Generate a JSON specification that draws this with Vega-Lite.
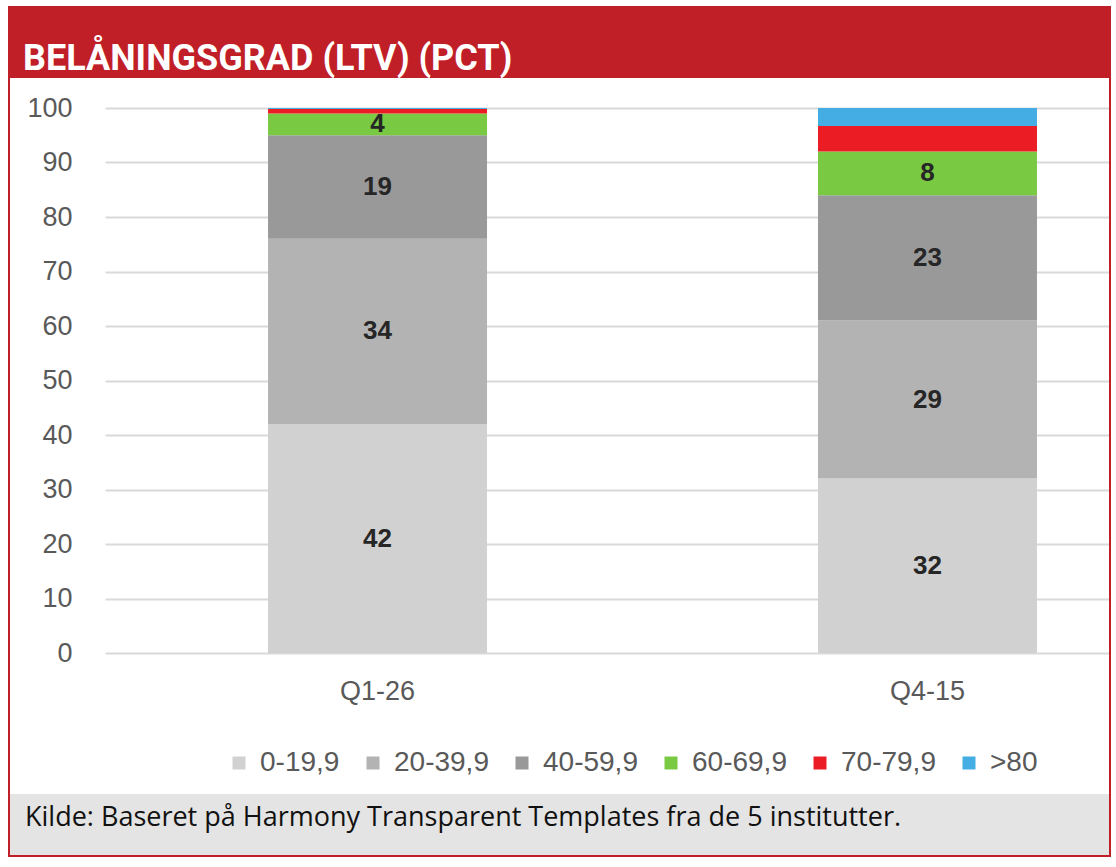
{
  "$schema": "https://vega.github.io/schema/vega-lite/v6.json",
  "background": "white",
  "padding": {"left": 8, "top": 6, "right": 5, "bottom": 10},
  "spacing": 0,
  "config": {
    "view": {"stroke": null},
    "concat": {"spacing": 0},
    "font": "Liberation Sans"
  },
  "datasets": {
    "ltv": [
      {"period": "Q1-26", "band": "0-19,9", "value": 42},
      {"period": "Q1-26", "band": "20-39,9", "value": 34},
      {"period": "Q1-26", "band": "40-59,9", "value": 19},
      {"period": "Q1-26", "band": "60-69,9", "value": 4},
      {"period": "Q1-26", "band": "70-79,9", "value": 0.8},
      {"period": "Q1-26", "band": ">80", "value": 0.2},
      {"period": "Q4-15", "band": "0-19,9", "value": 32},
      {"period": "Q4-15", "band": "20-39,9", "value": 29},
      {"period": "Q4-15", "band": "40-59,9", "value": 23},
      {"period": "Q4-15", "band": "60-69,9", "value": 8},
      {"period": "Q4-15", "band": "70-79,9", "value": 4.7},
      {"period": "Q4-15", "band": ">80", "value": 3.3}
    ]
  },
  "vconcat": [
    {
      "width": 1103,
      "height": 72,
      "data": {"values": []},
      "mark": "rect",
      "encoding": {},
      "view": {"fill": "#C11F27", "stroke": null},
      "title": {
        "text": "BELÅNINGSGRAD (LTV) (PCT)",
        "orient": "top",
        "anchor": "start",
        "frame": "group",
        "offset": 0,
        "dx": 15,
        "dy": 100,
        "baseline": "alphabetic",
        "font": "Roboto",
        "fontSize": 36,
        "fontWeight": "bold",
        "color": "white"
      }
    },
    {
      "spacing": 0,
      "hconcat": [
        {
          "width": 2,
          "height": 777,
          "data": {"values": []},
          "mark": "rect",
          "encoding": {},
          "view": {"fill": "#C11F27", "stroke": null}
        },
        {
          "spacing": 0,
          "vconcat": [
            {
              "width": 1099,
              "height": 716,
              "view": {"fill": "white", "stroke": null},
              "data": {"name": "ltv"},
              "encoding": {
                "x": {
                  "field": "period",
                  "type": "nominal",
                  "sort": ["Q1-26", "Q4-15"],
                  "scale": {
                    "type": "band",
                    "range": [95, 1099],
                    "paddingInner": 0.6018,
                    "paddingOuter": 0.2137,
                    "align": 0.6936,
                    "round": false
                  },
                  "axis": {
                    "title": null,
                    "offset": -141,
                    "domain": false,
                    "ticks": false,
                    "grid": false,
                    "labelAngle": 0,
                    "labelPadding": 25,
                    "labelFont": "Liberation Sans",
                    "labelFontSize": 27,
                    "labelColor": "#595959"
                  }
                },
                "y": {
                  "field": "value",
                  "type": "quantitative",
                  "stack": "zero",
                  "scale": {"domain": [0, 100], "range": [575, 30], "nice": false, "zero": true},
                  "axis": {
                    "title": null,
                    "values": [0, 10, 20, 30, 40, 50, 60, 70, 80, 90, 100],
                    "offset": -62,
                    "domain": false,
                    "ticks": false,
                    "labelPadding": 0,
                    "grid": true,
                    "gridColor": "#D9D9D9",
                    "gridWidth": 2,
                    "labelFont": "Liberation Sans",
                    "labelFontSize": 27,
                    "labelColor": "#595959"
                  }
                }
              },
              "layer": [
                {
                  "mark": {"type": "bar"},
                  "encoding": {
                    "color": {
                      "field": "band",
                      "type": "nominal",
                      "scale": {
                        "domain": ["0-19,9", "20-39,9", "40-59,9", "60-69,9", "70-79,9", ">80"],
                        "range": ["#D1D1D1", "#B3B3B3", "#999999", "#7AC943", "#EC1C24", "#44ADE3"]
                      },
                      "legend": {
                        "title": null,
                        "orient": "none",
                        "legendX": 217,
                        "legendY": 743,
                        "direction": "horizontal",
                        "symbolType": "square",
                        "symbolSize": 169,
                        "symbolStrokeWidth": 0,
                        "symbolOpacity": 1,
                        "labelFont": "Liberation Sans",
                        "labelFontSize": 28,
                        "labelColor": "#595959",
                        "labelOffset": 7,
                        "columnPadding": 19
                      }
                    },
                    "order": {"field": "band", "sort": "ascending"}
                  }
                },
                {
                  "transform": [
                    {"filter": {"field": "band", "oneOf": ["0-19,9", "20-39,9", "40-59,9", "60-69,9"]}}
                  ],
                  "mark": {
                    "type": "text",
                    "font": "Liberation Sans",
                    "fontSize": 26,
                    "fontWeight": "bold",
                    "color": "#262626",
                    "baseline": "middle"
                  },
                  "encoding": {
                    "y": {"field": "value", "type": "quantitative", "stack": "zero", "bandPosition": 0.5},
                    "detail": {"field": "band"},
                    "order": {"field": "band", "sort": "ascending"},
                    "text": {"field": "value", "type": "quantitative", "format": ".0f"}
                  }
                }
              ]
            },
            {
              "width": 1099,
              "height": 61,
              "data": {"values": []},
              "mark": "rect",
              "encoding": {},
              "view": {"fill": "#E4E4E4", "stroke": null},
              "title": {
                "text": "Kilde:  Baseret på Harmony Transparent Templates fra de 5 institutter.",
                "orient": "top",
                "anchor": "start",
                "frame": "group",
                "offset": 0,
                "dx": 15,
                "dy": 59,
                "baseline": "alphabetic",
                "font": "Open Sans",
                "fontSize": 27,
                "fontWeight": "normal",
                "color": "#111111"
              }
            }
          ]
        },
        {
          "width": 2,
          "height": 777,
          "data": {"values": []},
          "mark": "rect",
          "encoding": {},
          "view": {"fill": "#C11F27", "stroke": null}
        }
      ]
    },
    {
      "width": 1103,
      "height": 2,
      "data": {"values": []},
      "mark": "rect",
      "encoding": {},
      "view": {"fill": "#C11F27", "stroke": null}
    }
  ]
}
